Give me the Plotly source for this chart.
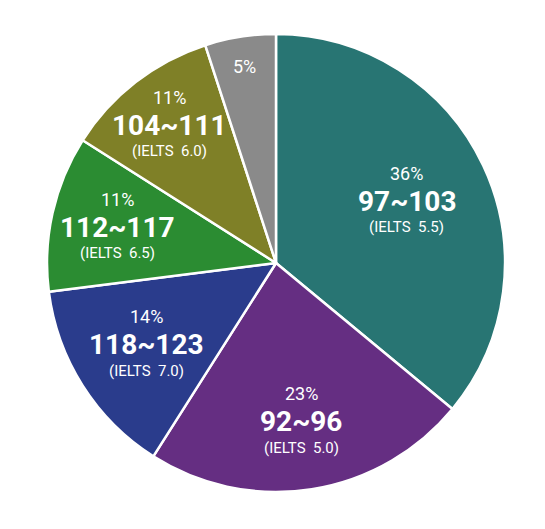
import math
import plotly.graph_objects as go

# 分布データ
ranges = ["97~103", "92~96", "118~123", "112~117", "104~111", ""]
ielts = ["5.5", "5.0", "7.0", "6.5", "6.0", ""]
shares = [36, 23, 14, 11, 11, 5]
colors = ["#287573", "#652e82", "#2a3c8c", "#2b8c32", "#7f8027", "#8a8a8a"]

# ラベルを置く半径（円の半径に対する比）
label_r = [0.632, 0.703, 0.668, 0.711, 0.761, 0.87]

W, H = 545, 529
dom_x = [0.0716, 0.9119]
dom_y = [0.0851, 0.9509]
cx = sum(dom_x) / 2
cy = sum(dom_y) / 2
R = (dom_x[1] - dom_x[0]) * W / 2
FONT = "Roboto"

fig = go.Figure(go.Pie(
    values=shares,
    textinfo="none",
    sort=False,
    direction="clockwise",
    rotation=0,
    marker=dict(colors=colors, line=dict(color="white", width=2.5)),
    hoverinfo="skip",
    domain=dict(x=dom_x, y=dom_y),
    showlegend=False,
))

# スライス中央の角度にラベルを配置（3行を別々に）
total = sum(shares)
cum = 0
for r, s, i, f in zip(ranges, shares, ielts, label_r):
    theta = 2 * math.pi * (cum + s / 2) / total
    cum += s
    x = cx + f * R * math.sin(theta) / W
    y = cy + f * R * math.cos(theta) / H
    common = dict(x=x, y=y, xref="paper", yref="paper", showarrow=False,
                  xanchor="center", yanchor="middle", borderpad=0)
    if not r:
        fig.add_annotation(text=f"{s}%", font=dict(color="white", family=FONT, size=18), **common)
        continue
    fig.add_annotation(text=f"{s}%", yshift=28,
                       font=dict(color="white", family=FONT, size=18), **common)
    fig.add_annotation(text=f"<b>{r}</b>",
                       font=dict(color="white", family=FONT, size=28), **common)
    fig.add_annotation(text=f"(IELTS&nbsp;&nbsp;{i})", yshift=-26,
                       font=dict(color="white", family=FONT, size=15), **common)

fig.update_layout(
    width=W,
    height=H,
    margin=dict(l=0, r=0, t=0, b=0),
    paper_bgcolor="white",
)

fig.write_html("out.html")
